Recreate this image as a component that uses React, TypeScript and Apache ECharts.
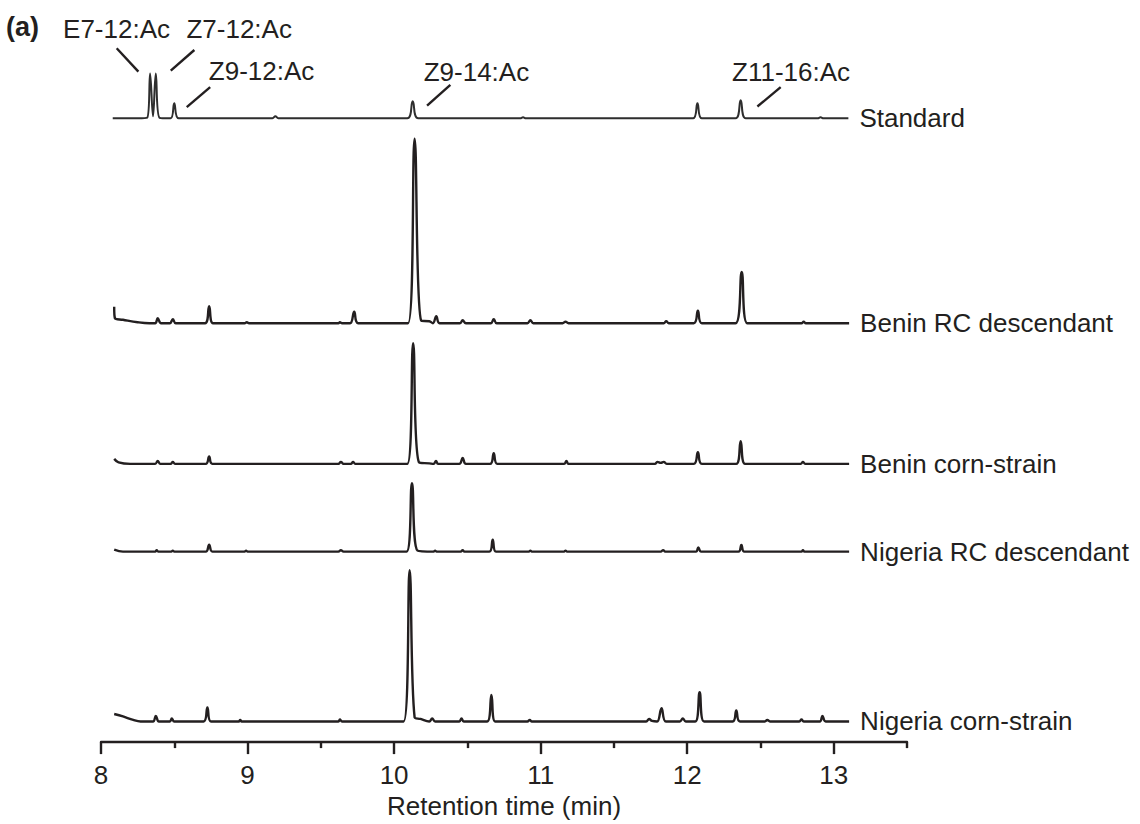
import React, { useEffect, useRef } from "react";
import * as echarts from "echarts";

// ---- Data (retention time in min, detector response in plot units above each trace's baseline) ----
const traceNames = [
  "Standard",
  "Benin RC descendant",
  "Benin corn-strain",
  "Nigeria RC descendant",
  "Nigeria corn-strain",
];

const standardTrace: number[][] = [
  [8.08, 0], [8.25, 0], [8.315, 0.5], [8.335, 45], [8.355, 2], [8.374, 45], [8.4, 0.5],
  [8.475, 0], [8.5, 15], [8.53, 0], [9.17, 0], [9.19, 2], [9.21, 0],
  [10.09, 0], [10.127, 17], [10.165, 0], [10.86, 0], [10.88, 1], [10.9, 0],
  [12.04, 0], [12.07, 15], [12.1, 0], [12.33, 0], [12.365, 18], [12.4, 0],
  [12.89, 0], [12.91, 1], [12.93, 0], [13.1, 0],
];

const beninRcTrace: number[][] = [
  [8.09, 16.5], [8.095, 5], [8.15, 3.5], [8.25, 1], [8.33, 0], [8.37, 0], [8.387, 5], [8.41, 0],
  [8.47, 0], [8.49, 4], [8.51, 0], [8.71, 0], [8.738, 17], [8.765, 0], [8.98, 0], [8.995, 1], [9.01, 0],
  [9.62, 0], [9.63, 1], [9.645, 0], [9.7, 0], [9.728, 11.5], [9.755, 0],
  [10.095, 0], [10.14, 185], [10.185, 2.5], [10.24, 2], [10.265, 0], [10.288, 7], [10.31, 0],
  [10.45, 0], [10.468, 3], [10.49, 0], [10.66, 0], [10.68, 4], [10.7, 0], [10.91, 0], [10.93, 3], [10.95, 0],
  [11.15, 0], [11.17, 1.5], [11.19, 0], [11.84, 0], [11.857, 2], [11.875, 0],
  [12.045, 0], [12.073, 12.5], [12.1, 0], [12.33, 0], [12.372, 51.5], [12.41, 0],
  [12.78, 0], [12.795, 1.5], [12.81, 0], [13.105, 0],
];

const beninCornTrace: number[][] = [
  [8.09, 5], [8.12, 1.5], [8.2, 0], [8.37, 0], [8.387, 3], [8.405, 0], [8.475, 0], [8.49, 2], [8.505, 0],
  [8.715, 0], [8.738, 7.5], [8.76, 0], [9.62, 0], [9.637, 2], [9.655, 0], [9.705, 0], [9.72, 2], [9.735, 0],
  [10.09, 0], [10.13, 121], [10.17, 1.5], [10.24, 0.5], [10.27, 0], [10.286, 3], [10.3, 0],
  [10.445, 0], [10.468, 6], [10.49, 0], [10.655, 0], [10.68, 10.7], [10.705, 0],
  [11.16, 0], [11.176, 3], [11.19, 0], [11.78, 0], [11.796, 2], [11.82, 1], [11.84, 2], [11.86, 0],
  [12.045, 0], [12.073, 11.7], [12.1, 0], [12.335, 0], [12.365, 22.7], [12.395, 0],
  [12.775, 0], [12.79, 2], [12.805, 0], [13.105, 0],
];

const nigeriaRcTrace: number[][] = [
  [8.09, 2], [8.15, 0], [8.37, 0], [8.38, 1.5], [8.39, 0], [8.48, 0], [8.49, 1], [8.5, 0],
  [8.715, 0], [8.738, 7], [8.76, 0], [8.98, 0], [8.99, 1], [9.0, 0], [9.62, 0], [9.637, 1.5], [9.655, 0],
  [10.085, 0], [10.122, 68.7], [10.16, 1], [10.27, 0], [10.28, 1], [10.29, 0],
  [10.455, 0], [10.468, 1.5], [10.48, 0], [10.65, 0], [10.673, 12], [10.695, 0],
  [10.92, 0], [10.93, 1], [10.94, 0], [11.16, 0], [11.17, 1], [11.18, 0], [11.82, 0], [11.836, 1.5], [11.85, 0],
  [12.06, 0], [12.076, 4.3], [12.095, 0], [12.35, 0], [12.37, 6.6], [12.39, 0],
  [12.78, 0], [12.79, 1.5], [12.8, 0], [13.105, 0],
];

const nigeriaCornTrace: number[][] = [
  [8.09, 7.5], [8.15, 5], [8.22, 1.5], [8.27, 0], [8.355, 0], [8.374, 5.5], [8.395, 0],
  [8.47, 0], [8.483, 3], [8.5, 0], [8.7, 0], [8.726, 14], [8.75, 0], [8.94, 0], [8.95, 1.5], [8.96, 0],
  [9.62, 0], [9.63, 2], [9.645, 0], [10.065, 0], [10.106, 151.6], [10.14, 4], [10.18, 2.5], [10.24, 0],
  [10.26, 3], [10.28, 0], [10.445, 0], [10.46, 3], [10.475, 0], [10.635, 0], [10.664, 26.6], [10.69, 0],
  [10.91, 0], [10.926, 1.5], [10.94, 0], [11.72, 0], [11.74, 2.5], [11.76, 0.5], [11.795, 0],
  [11.825, 13.3], [11.855, 0], [11.95, 0], [11.97, 3], [11.99, 0], [12.055, 0], [12.085, 29.3], [12.115, 0],
  [12.31, 0], [12.335, 11], [12.36, 0], [12.53, 0], [12.547, 1.5], [12.565, 0],
  [12.765, 0], [12.78, 2], [12.795, 0], [12.905, 0], [12.923, 5.6], [12.945, 0], [13.105, 0],
];

const traces = [standardTrace, beninRcTrace, beninCornTrace, nigeriaRcTrace, nigeriaCornTrace];
// vertical stacking offset of each trace's baseline (plot units)
const traceOffsets = [625.5, 420, 279, 191, 20.7];

const xMajorTicks = [8, 9, 10, 11, 12, 13];
const xMinorTicks = [8.5, 9.5, 10.5, 11.5, 12.5, 13.5];

const compoundLabels = ["E7-12:Ac", "Z7-12:Ac", "Z9-12:Ac", "Z9-14:Ac", "Z11-16:Ac"];
const compoundLabelAt = [[8.106, 715], [8.943, 715], [9.096, 673], [10.562, 672], [12.709, 672]];
const leaderFrom = [[8.107, 695.7], [8.637, 694], [8.745, 656.7], [10.384, 659], [12.638, 656.7]];
const leaderTo = [[8.255, 672.3], [8.476, 673.3], [8.585, 636.7], [10.225, 638.3], [12.479, 637.3]];

const INK = "#231f20";
const FONT = "'Liberation Sans', Arial, Helvetica, sans-serif";

export default function App() {
  const ref = useRef<HTMLDivElement>(null);

  useEffect(() => {
    if (!ref.current) return;
    const chart = echarts.init(ref.current, null, { renderer: "svg" });

    const traceSeries = traces.map((pts, i) => ({
      type: "line",
      name: traceNames[i],
      xAxisIndex: 0,
      yAxisIndex: 0,
      data: pts.map(([t, v]) => [t, v + traceOffsets[i]]),
      symbol: "none",
      showSymbol: false,
      smooth: 0.4,
      clip: false,
      silent: true,
      lineStyle: { color: i === 0 ? "#2e2e2e" : INK, width: i === 0 ? 2 : 2.4, opacity: 1 },
      endLabel: {
        show: true,
        formatter: traceNames[i],
        distance: 11,
        fontSize: 26,
        fontFamily: FONT,
        color: INK,
      },
    }));

    const leaderSeries = leaderFrom.map((p, i) => ({
      type: "line",
      xAxisIndex: 0,
      yAxisIndex: 0,
      data: [p, leaderTo[i]],
      symbol: "none",
      showSymbol: false,
      silent: true,
      clip: false,
      lineStyle: { color: INK, width: 2.4, opacity: 1 },
    }));

    const labelSeries = {
      type: "scatter",
      xAxisIndex: 0,
      yAxisIndex: 0,
      symbolSize: 1,
      silent: true,
      clip: false,
      itemStyle: { color: "rgba(0,0,0,0)", opacity: 1 },
      data: compoundLabels.map((n, i) => ({ name: n, value: compoundLabelAt[i] })),
      label: {
        show: true,
        position: "inside",
        formatter: "{b}",
        fontSize: 26,
        fontFamily: FONT,
        color: INK,
        opacity: 1,
      },
    };

    chart.setOption({
      animation: false,
      backgroundColor: "#ffffff",
      textStyle: { fontFamily: FONT },
      grid: { left: 101, right: 233, top: 44, bottom: 80, containLabel: false },
      xAxis: [
        {
          type: "value",
          min: 8,
          max: 13.5,
          position: "bottom",
          axisLine: { show: true, lineStyle: { color: INK, width: 2.4 } },
          axisTick: { show: true, customValues: xMajorTicks, length: 12, lineStyle: { color: INK, width: 2.4 } },
          axisLabel: { show: true, customValues: xMajorTicks, fontSize: 26, color: INK, margin: 20, fontFamily: FONT },
          splitLine: { show: false },
          name: "Retention time (min)",
          nameLocation: "middle",
          nameGap: 50,
          nameTextStyle: { fontSize: 26, color: INK, fontFamily: FONT },
        },
        {
          type: "value",
          min: 8,
          max: 13.5,
          position: "bottom",
          offset: 0,
          axisLine: { show: false },
          axisTick: { show: true, customValues: xMinorTicks, length: 6, lineStyle: { color: INK, width: 2.4 } },
          axisLabel: { show: false },
          splitLine: { show: false },
        },
      ],
      yAxis: { type: "value", min: 0, max: 700, show: false },
      graphic: [
        {
          type: "text",
          x: 6,
          y: 27,
          style: {
            text: "(a)",
            font: `bold 27px ${FONT}`,
            fill: INK,
            verticalAlign: "middle",
          },
        },
      ],
      series: [...traceSeries, ...leaderSeries, labelSeries],
    });

    return () => chart.dispose();
  }, []);

  return (
    <div
      ref={ref}
      style={{ position: "fixed", left: 0, top: 0, width: 1140, height: 824, background: "#fff" }}
    />
  );
}
